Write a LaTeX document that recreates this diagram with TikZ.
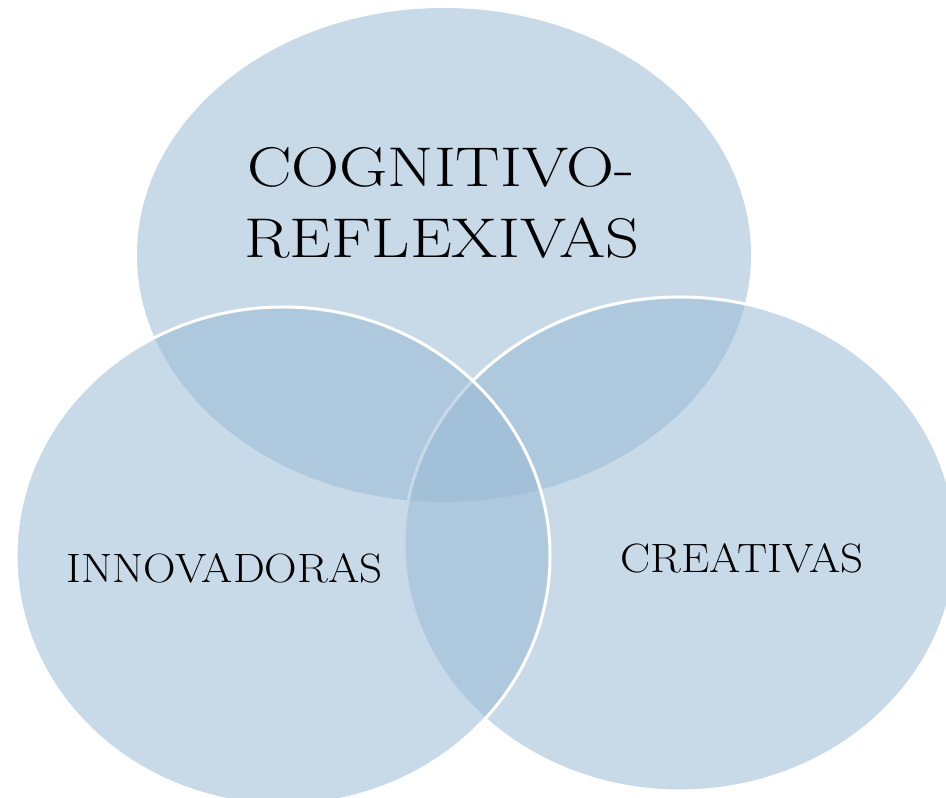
\documentclass[tikz,border=0pt]{standalone}
\usepackage{fontspec}
\setmainfont{Latin Modern Roman}
\newfontfamily\bigfont{Latin Modern Roman}[FakeStretch=1.19]
\newfontfamily\smallfont{Latin Modern Roman}[FakeStretch=1.10]
\definecolor{venn}{RGB}{151,185,212}
\tikzset{
  vennfill/.style={fill=venn, fill opacity=0.53},
  vennline/.style={vennfill, draw=white, line width=3pt},
  lab/.style={anchor=base, inner sep=0pt, text=black},
  biglab/.style={lab, font=\bigfont\fontsize{56}{58}\selectfont},
  smalllab/.style={lab, font=\smallfont\fontsize{41}{43}\selectfont},
}
\begin{document}
\begin{tikzpicture}[x=1pt,y=1pt]
\useasboundingbox (0,0) rectangle (946,798);
\clip (0,0) rectangle (946,798);
\path[vennfill] (444,543) ellipse [x radius=307, y radius=247];
\path[vennline] (680,254) ellipse [x radius=276, y radius=247];
\path[vennline] (283,242) ellipse [x radius=267, y radius=249];
\node[biglab] (t1) at (441,611) {COGNITIVO-};
\node[biglab] (t2) at (442,540) {REFLEXIVAS};
\node[smalllab] (l) at (224.5,215) {INNOVADORAS};
\node[smalllab] (r) at (742,225) {CREATIVAS};
\end{tikzpicture}
\end{document}
